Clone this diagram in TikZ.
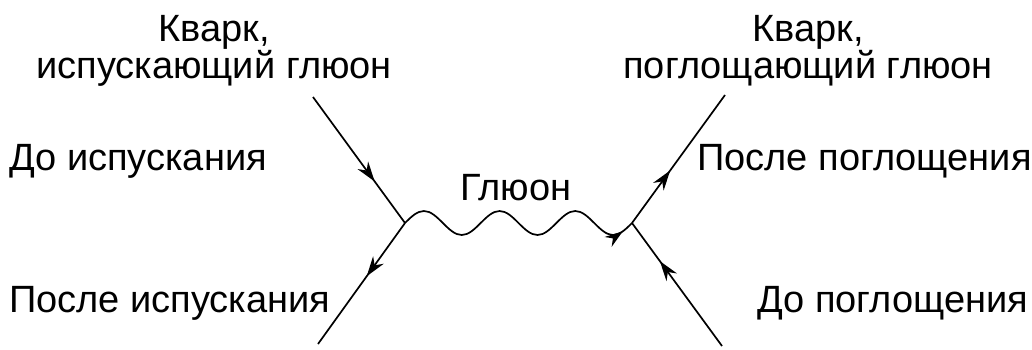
\documentclass[tikz,border=0pt]{standalone}
\usepackage{fontspec}
\setmainfont{Liberation Sans}
\usetikzlibrary{arrows.meta, decorations.markings}

\tikzset{
  quark/.style={line width=1.7pt, postaction={decorate},
    decoration={markings, mark=at position #1 with {\arrow{Stealth[length=20pt, width=13pt]}}}},
  gluon/.style={line width=1.7pt, postaction={decorate},
    decoration={markings, mark=at position 0.955 with {\arrow{Stealth[length=18pt, width=12pt]}}}},
  label/.style={anchor=base west, inner sep=0pt},
}

\begin{document}
\begin{tikzpicture}[x=1pt, y=1pt, font=\fontsize{38}{37}\selectfont]
\useasboundingbox (0,0) rectangle (1032,349);

% vertices and free ends
\coordinate (emit) at (405,126);
\coordinate (absorb) at (632,126);
\coordinate (emitin) at (313,252);
\coordinate (emitout) at (318,5);
\coordinate (absorbin) at (722,3);
\coordinate (absorbout) at (725,254);

% quark lines
\draw[quark=0.67] (emitin) -- (emit);
\draw[quark=0.44] (emit) -- (emitout);
\draw[quark=0.69] (absorbin) -- (absorb);
\draw[quark=0.41] (absorb) -- (absorbout);

% gluon, three waves from emit to absorb
\draw[gluon] (emit)
  sin ++(18.92,12) cos ++(18.92,-12) sin ++(18.92,-12) cos ++(18.92,12)
  sin ++(18.92,12) cos ++(18.92,-12) sin ++(18.92,-12) cos ++(18.92,12)
  sin ++(18.92,12) cos ++(18.92,-12) sin ++(18.92,-12) cos (absorb);

% labels
\node[anchor=base, align=center, inner sep=0pt] (emitter) at (214,271) {Кварк,\\испускающий глюон};
\node[anchor=base, align=center, inner sep=0pt] (absorber) at (808,271) {Кварк,\\поглощающий глюон};
\node[label] (beforeemit) at (9,179) {До испускания};
\node[label] (afteremit) at (9,37) {После испускания};
\node[label] (gluonname) at (460,149) {Глюон};
\node[label] (afterabsorb) at (697,179) {После поглощения};
\node[label] (beforeabsorb) at (757,37) {До поглощения};
\end{tikzpicture}
\end{document}
